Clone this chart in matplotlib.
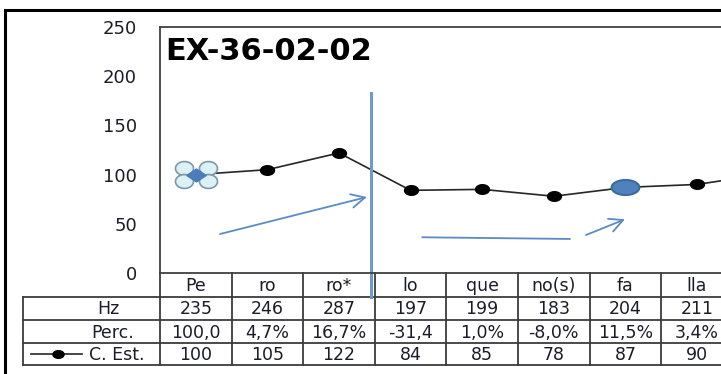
import numpy as np
import matplotlib
matplotlib.use('Agg')
import matplotlib.pyplot as plt
from matplotlib.path import Path
from matplotlib.transforms import blended_transform_factory, ScaledTranslation

# data
syllables = ['Pe', 'ro', 'ro*', 'lo', 'que', 'no(s)', 'fa', 'lla']
hz = ['235', '246', '287', '197', '199', '183', '204', '211']
perc = ['100,0', '4,7%', '16,7%', '-31,4', '1,0%', '-8,0%', '11,5%', '3,4%']
c_est = [100, 105, 122, 84, 85, 78, 87, 90]
# line runs on past the crop, next point estimated from its slope
c_est_next = 101
row_names = ['Hz', 'Perc.', 'C. Est.']

plt.rcParams['font.family'] = ['DejaVu Sans']
txt_col = '#1c1c28'
blue = '#5b8ac6'

W, H = 721, 374
fig = plt.figure(figsize=(W / 100, H / 100), dpi=100)
col_w = 71.6

# overlay in pixel coords for the frame and table
ov = fig.add_axes([0, 0, 1, 1], zorder=0)
ov.set_xlim(0, W)
ov.set_ylim(H, 0)
ov.axis('off')

ax = fig.add_axes([160 / W, 1 - 273 / H, 9 * col_w / W, (273 - 27) / H], zorder=1)
ax.patch.set_visible(False)
ax.set_xlim(-0.5, 8.5)
ax.set_ylim(0, 250)
ax.set_yticks(range(0, 251, 50))
ax.set_xticks([])
ax.tick_params(axis='y', left=False, pad=13, labelsize=13, labelcolor=txt_col)
ax.spines['right'].set_visible(False)
for s in ['left', 'top', 'bottom']:
    ax.spines[s].set_color('#404040')
    ax.spines[s].set_linewidth(1.3)

# stretched ellipse marker like the excel dots
t = np.linspace(0, 2 * np.pi, 60)
def ell(aspect):
    return Path(np.column_stack([aspect * np.cos(t), np.sin(t)]), closed=True)

xs = np.arange(len(c_est) + 1)
ys = c_est + [c_est_next]
ax.plot(xs, ys, color='#262626', lw=1.2, marker=ell(1.45), ms=10,
        mfc='black', mec='black', markevery=list(range(1, len(ys))), clip_on=False)

# selected point on Pe: diamond + four handles
for dx, dy in [(-11.7, 6.7), (11.7, 6.7), (-11.7, -6.7), (11.7, -6.7)]:
    tr = ax.transData + ScaledTranslation(dx / 100, dy / 100, fig.dpi_scale_trans)
    ax.plot(0, c_est[0], marker=ell(1.3), ms=13, mfc='#daf1f7', mec='#7f96a8',
            mew=1.2, transform=tr, zorder=4)
diamond = Path([(1.5, 0), (0, 1), (-1.5, 0), (0, -1), (1.5, 0)], closed=True)
ax.plot(0, c_est[0], marker=diamond, ms=14, mfc='#4a7ebb', mec='#4a7ebb', zorder=5)

# highlighted fa point
ax.plot(6, c_est[6], marker=ell(1.85), ms=20, mfc='#4f81bd', mec='#3b6aa0', mew=1.5, zorder=5)

# blue annotations
ax.plot([2.443, 2.443], [183, -24.4], color='#7099cc', lw=2.2, clip_on=False)
ax.annotate('', xy=(2.39, 77.2), xytext=(0.338, 39.6), annotation_clip=False,
            arrowprops=dict(arrowstyle='->,head_length=0.7,head_width=0.35', color=blue, lw=1.3,
                            mutation_scale=14, shrinkA=0, shrinkB=0))
ax.plot([3.166, 5.223], [36.3, 34.6], color=blue, lw=1.3)
ax.annotate('', xy=(5.995, 54.6), xytext=(5.45, 38.6), annotation_clip=False,
            arrowprops=dict(arrowstyle='->,head_length=0.7,head_width=0.35', color=blue, lw=1.3,
                            mutation_scale=14, shrinkA=0, shrinkB=0))

# title
ov.text(165, 60, 'EX-36-02-02', fontsize=22, fontweight='bold', color='black', va='baseline')

# outer frame
ov.plot([5, 5, 800], [400, 10, 10], color='black', lw=2.2, solid_joinstyle='miter')

# data table
tt = blended_transform_factory(ax.transData, ov.transData)
rows = [273, 297, 320, 343, 365]
lc = '#3c3c3c'
ov.plot([160, 160], [273, 365], color=lc, lw=1.3)
ov.plot([23, 23], [297, 365], color=lc, lw=1.3)
for r in rows[1:]:
    ov.plot([23, 800], [r, r], color=lc, lw=1.3)
for i in range(1, 10):
    ax.plot([i - 0.5, i - 0.5], [273, 365], color=lc, lw=1.3, transform=tt, clip_on=False)

for i, lab in enumerate(syllables):
    ax.text(i, 286, lab, transform=tt, ha='center', va='center', fontsize=12.5, color=txt_col, clip_on=False)
for j, vals in enumerate([hz, perc, [str(v) for v in c_est]]):
    yc = (rows[j + 1] + rows[j + 2]) / 2 + 1
    for i, v in enumerate(vals):
        ax.text(i, yc, v, transform=tt, ha='center', va='center', fontsize=12.5, color=txt_col, clip_on=False)

label_x = [108, 113, 117]
for j, name in enumerate(row_names):
    yc = (rows[j + 1] + rows[j + 2]) / 2 + 1
    ov.text(label_x[j], yc, name, ha='center', va='center', fontsize=12.5, color=txt_col)
# legend key in the C. Est. cell
ov.plot([31, 82], [354, 354], color='#262626', lw=1.2)
ov.plot(58, 354, marker=ell(1.45), ms=8, mfc='black', mec='black')

fig.savefig('out.png', dpi=100)
